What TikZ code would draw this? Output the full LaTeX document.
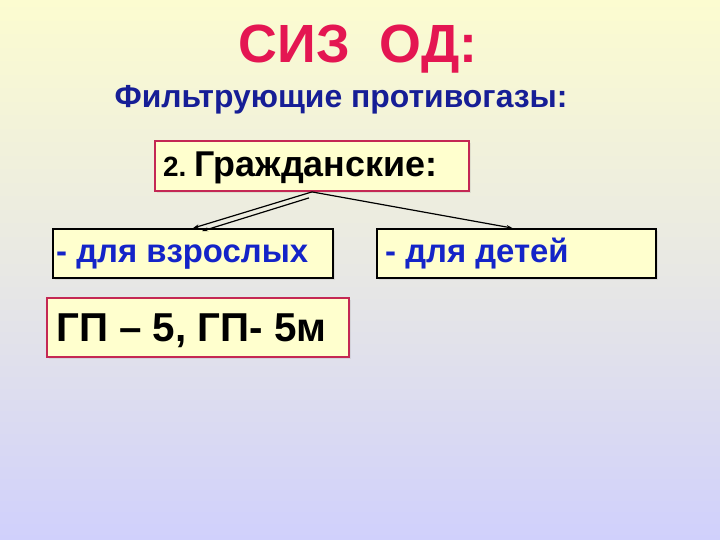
\documentclass[tikz,border=0pt]{standalone}
\usepackage{fontspec}
\setmainfont{Liberation Sans}
\usetikzlibrary{arrows.meta, positioning, calc, shadows}
\definecolor{titlered}{RGB}{228,22,82}
\definecolor{frame}{RGB}{196,40,84}
\definecolor{subblue}{RGB}{22,30,150}
\definecolor{itemblue}{RGB}{20,36,200}
\definecolor{boxfill}{RGB}{255,255,206}
\definecolor{bgtop}{RGB}{252,252,208}
\definecolor{bgmid}{RGB}{232,232,228}
\definecolor{bgbottom}{RGB}{208,208,252}
\newcommand{\Size}[1]{\fontsize{#1}{#1}\selectfont}
\tikzset{
    box/.style={draw, line width=1.8bp, fill=boxfill, inner ysep=0pt,
      drop shadow={shadow xshift=2bp, shadow yshift=-2bp, opacity=0.15}},
    redbox/.append style={box, draw=frame},
    blackbox/.append style={box, draw=black},
    label text/.style={anchor=base west, inner sep=0pt},
    link/.style={->, >={Stealth[length=6bp, width=4bp]}, line width=1.2bp},
}

\begin{document}
\begin{tikzpicture}[x=1bp, y=-1bp]
    \shade[top color=bgtop, bottom color=bgbottom, middle color=bgmid] (0,0) rectangle (720,540);
    \useasboundingbox (0,0) rectangle (720,540);

    \node[anchor=base, text=titlered, font=\bfseries\Size{54}] (title) at (358,63) {СИЗ\ \ ОД:};
    \node[anchor=base, text=subblue, font=\bfseries\Size{32}] (sub) at (341,108) {Фильтрующие противогазы:};

    \node[redbox, minimum width=314bp, minimum height=50bp] (civil) at (312,166) {};
    \node[label text, font=\bfseries\Size{36}] (civiltext) at (163,177)
      {\Size{28}2.\hspace{0.3em}\Size{36}Гражданские:};

    \node[blackbox, minimum width=280bp, minimum height=49bp] (adult) at (193,253.5) {};
    \node[label text, text=itemblue, font=\bfseries\Size{33}] (adulttext) at (56,263) {- для взрослых};
    \node[blackbox, minimum width=279bp, minimum height=49bp] (child) at (516.5,253.5) {};
    \node[label text, text=itemblue, font=\bfseries\Size{33}] (childtext) at (385,263) {- для детей};

    \node[redbox, minimum width=302bp, minimum height=59bp] (model) at (198,327.5) {};
    \node[label text, font=\bfseries\Size{40.5}] (modeltext) at (56,341) {ГП – 5, ГП- 5м};

    \draw[link] (civil.south) -- (adult.north);
    \draw[link] ($(civil.south)+(-3,6)$) -- ($(adult.north)+(9,3)$);
    \draw[link] (civil.south) -- ($(child.north)+(-4,0)$);

  \end{tikzpicture}
\end{document}
